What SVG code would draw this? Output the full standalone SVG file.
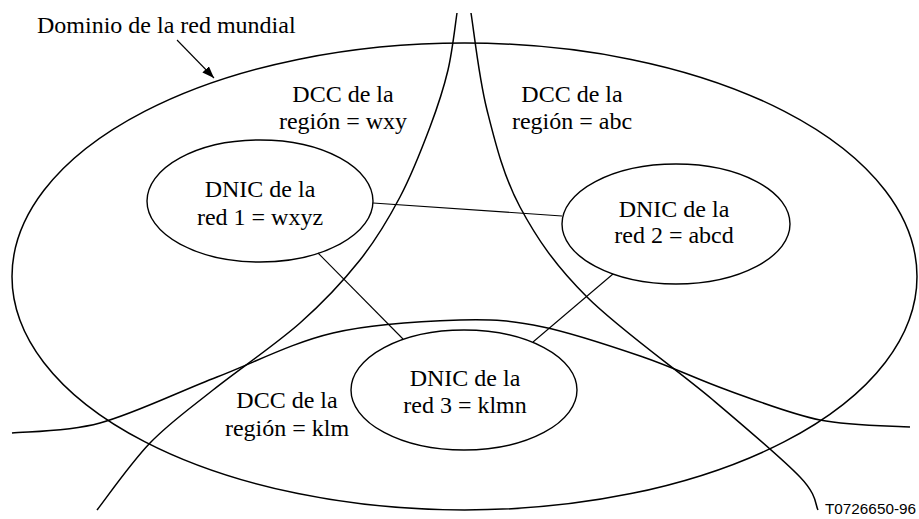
<svg xmlns="http://www.w3.org/2000/svg" width="919" height="519" viewBox="0 0 919 519">
<style>
.t{font-family:"Liberation Serif","Times New Roman",serif;font-size:24px;fill:#000;text-anchor:middle}
.c{fill:none;stroke:#000;stroke-width:1.5}
.n{fill:none;stroke:#000;stroke-width:1.4}
.l{fill:none;stroke:#000;stroke-width:1.1}
</style>
<defs>
<marker id="ah" markerUnits="userSpaceOnUse" markerWidth="14" markerHeight="10" refX="12" refY="4.5" orient="auto">
<path d="M0,0 L12,4.5 L0,9 z" fill="#000"/>
</marker>
</defs>
<rect width="919" height="519" fill="#fff"/>
<g id="world-domain">
<ellipse class="c" cx="464.5" cy="276.5" rx="452.5" ry="233.5"/>
<text x="37" y="33" class="t" style="text-anchor:start">Dominio de la red mundial</text>
<line class="l" x1="177" y1="40" x2="214" y2="78" marker-end="url(#ah)"/>
</g>
<g id="region-boundaries">
<path class="c" d="M457,13 C455.5,22.5 452.5,51 448,70 C443.5,89 438,105.8 430,127 C422,148.2 411.7,174.8 400,197 C388.3,219.2 376.7,239 360,260 C343.3,281 324.5,301.3 300,323 C275.5,344.7 238,370 213,390 C188,410 169.3,423 150,443 C130.7,463 105.8,498.8 97,510"/>
<path class="c" d="M471,13 C473.7,29.2 478.8,77.7 487,110 C495.2,142.3 503.3,175.8 520,207 C536.7,238.2 554.8,264.8 587,297 C619.2,329.2 677.5,370 713,400 C748.5,430 782.5,458.7 800,477 C817.5,495.3 815,504.5 818,510"/>
<path class="c" d="M12,433 C26.7,431.3 65.8,432.3 100,423 C134.2,413.7 178.2,392 217,377 C255.8,362 292.5,342.5 333,333 C373.5,323.5 425,321 460,320 C495,319 512.5,320.8 543,327 C573.5,333.2 612.3,346.5 643,357 C673.7,367.5 697.5,379.5 727,390 C756.5,400.5 789.5,413.8 820,420 C850.5,426.2 895,425.8 910,427"/>
</g>
<g id="region-wxy">
<text class="t" x="343" y="102">DCC de la</text>
<text class="t" x="343" y="129">región = wxy</text>
</g>
<g id="region-abc">
<text class="t" x="572" y="102">DCC de la</text>
<text class="t" x="572" y="129">región = abc</text>
</g>
<g id="region-klm">
<text class="t" x="287" y="408">DCC de la</text>
<text class="t" x="287" y="436">región = klm</text>
</g>
<g id="connectors">
<line class="l" x1="373" y1="203" x2="562" y2="216"/>
<line class="l" x1="318" y1="253" x2="403" y2="339"/>
<line class="l" x1="613" y1="274" x2="533" y2="342"/>
</g>
<g id="dnic-1">
<ellipse class="n" cx="260" cy="201" rx="113" ry="61"/>
<text class="t" x="260" y="197">DNIC de la</text>
<text class="t" x="260" y="225">red 1 = wxyz</text>
</g>
<g id="dnic-2">
<ellipse class="n" cx="676" cy="224" rx="114" ry="60"/>
<text class="t" x="674" y="217">DNIC de la</text>
<text class="t" x="674" y="243">red 2 = abcd</text>
</g>
<g id="dnic-3">
<ellipse class="n" cx="464" cy="390" rx="113" ry="60"/>
<text class="t" x="465" y="386">DNIC de la</text>
<text class="t" x="465" y="413">red 3 = klmn</text>
</g>
<text x="825" y="514" font-family="'Liberation Sans',Arial,sans-serif" font-size="15.5" textLength="91" lengthAdjust="spacingAndGlyphs">T0726650-96</text>
</svg>
